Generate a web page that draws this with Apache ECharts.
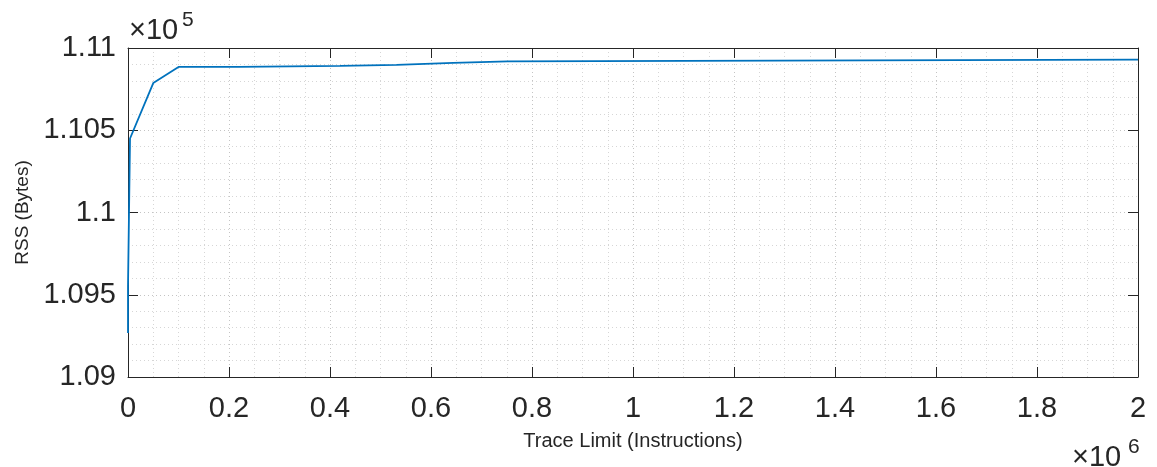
<!DOCTYPE html>
<html>
<head>
<meta charset="utf-8">
<script src="https://cdn.jsdelivr.net/npm/echarts@6/dist/echarts.min.js"></script>
<style>
html,body{margin:0;padding:0;background:#fff;}
#chart{width:1157px;height:467px;}
</style>
</head>
<body>
<div id="chart"></div>
<script>
// Data (x: trace limit in instructions, y: RSS in bytes)
const traceLimit = [0, 0, 1000, 2000, 3000, 4000, 5000, 50000, 100000, 220000, 222000, 420000, 422000, 532000, 534000, 644000, 646000, 752000, 754000, 2000000];
const rssBytes   = [109267, 109550, 109560, 110000, 110005, 110450, 110460, 110787, 110885, 110885, 110891, 110891, 110898, 110898, 110909, 110909, 110919, 110919, 110929, 110929];

const xTickLabels = ['0', '0.2', '0.4', '0.6', '0.8', '1', '1.2', '1.4', '1.6', '1.8', '2'];
const yTickLabels = ['1.09', '1.095', '1.1', '1.105', '1.11'];

const xName = 'Trace Limit (Instructions)';
const yName = 'RSS (Bytes)';

const FONT = "'Liberation Sans', Arial, Helvetica, sans-serif";
const TXT = '#262626';
const xMin = 0, xMax = 2000000, xStep = 200000;
const yMin = 109000, yMax = 111000, yStep = 500;

const seriesData = traceLimit.map((x, i) => [x, rssBytes[i]]);

const chart = echarts.init(document.getElementById('chart'), null, {renderer: 'canvas'});

const gridLine = {show: true, lineStyle: {color: '#c4c4c4', type: [1, 3], width: 1}};
const minorLine = {show: true, lineStyle: {color: '#d6d6d6', type: [1, 3], width: 1}};

const option = {
  backgroundColor: '#fff',
  animation: false,
  grid: {left: 128, right: 19, top: 48, bottom: 90, containLabel: false},
  xAxis: [{
    type: 'value', min: xMin, max: xMax, interval: xStep,
    position: 'bottom',
    name: xName, nameLocation: 'middle', nameGap: 54,
    nameTextStyle: {fontFamily: FONT, fontSize: 20, color: TXT},
    axisLine: {show: true, onZero: false, lineStyle: {color: TXT, width: 1}},
    axisTick: {show: true, inside: true, length: 10, lineStyle: {color: TXT}},
    axisLabel: {
      show: true, margin: 17, fontFamily: FONT, fontSize: 29, color: TXT,
      formatter: v => xTickLabels[Math.round(v / xStep)]
    },
    splitLine: gridLine,
    minorTick: {show: true, splitNumber: 4, length: 0},
    minorSplitLine: minorLine
  }, {
    type: 'value', min: xMin, max: xMax, interval: xStep,
    position: 'top',
    axisLine: {show: true, onZero: false, lineStyle: {color: TXT, width: 1}},
    axisTick: {show: true, inside: true, length: 10, lineStyle: {color: TXT}},
    axisLabel: {show: false},
    splitLine: {show: false}
  }],
  yAxis: [{
    type: 'value', min: yMin, max: yMax, interval: yStep,
    position: 'left',
    name: yName, nameLocation: 'middle', nameGap: 96,
    nameTextStyle: {fontFamily: FONT, fontSize: 19, color: TXT},
    axisLine: {show: true, onZero: false, lineStyle: {color: TXT, width: 1}},
    axisTick: {show: true, inside: true, length: 10, lineStyle: {color: TXT}},
    axisLabel: {
      show: true, margin: 12, fontFamily: FONT, fontSize: 29, color: TXT,
      formatter: v => yTickLabels[Math.round((v - yMin) / yStep)]
    },
    splitLine: gridLine,
    minorTick: {show: true, splitNumber: 5, length: 0},
    minorSplitLine: minorLine
  }, {
    type: 'value', min: yMin, max: yMax, interval: yStep,
    position: 'right',
    axisLine: {show: true, onZero: false, lineStyle: {color: TXT, width: 1}},
    axisTick: {show: true, inside: true, length: 10, lineStyle: {color: TXT}},
    axisLabel: {show: false},
    splitLine: {show: false}
  }],
  series: [{
    type: 'line',
    xAxisIndex: 0, yAxisIndex: 0,
    data: seriesData,
    showSymbol: false,
    symbol: 'none',
    lineStyle: {color: '#0072BD', width: 1.8},
    z: 5
  }],
  graphic: [
    {type: 'text', left: 129, top: 16, style: {text: '×10', font: '29px ' + FONT, fill: TXT}},
    {type: 'text', left: 182, top: 10, style: {text: '5', font: '21px ' + FONT, fill: TXT}},
    {type: 'text', left: 1072, top: 443, style: {text: '×10', font: '29px ' + FONT, fill: TXT}},
    {type: 'text', left: 1128, top: 437, style: {text: '6', font: '21px ' + FONT, fill: TXT}}
  ]
};
chart.setOption(option);
</script>
</body>
</html>
